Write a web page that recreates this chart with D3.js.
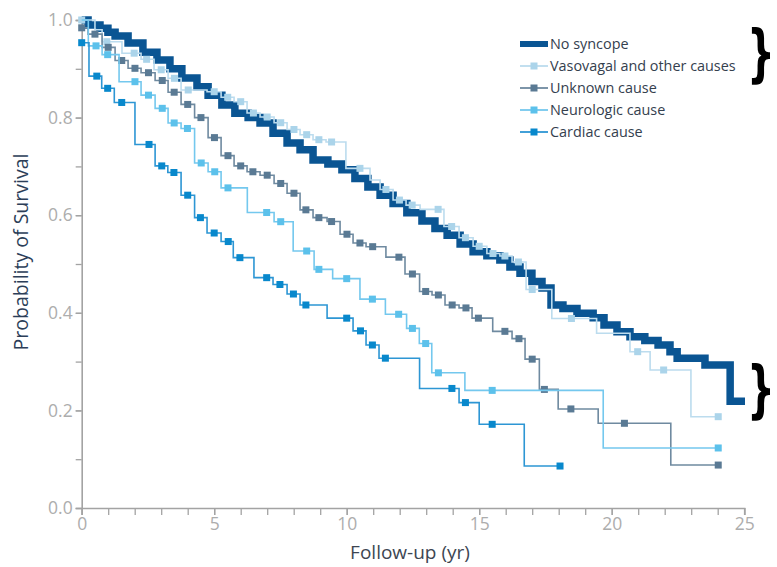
<!DOCTYPE html>
<html>
<head>
<meta charset="utf-8">
<script src="https://cdn.jsdelivr.net/npm/d3@7"></script>
<style>
  body { margin: 0; background: #fff; }
  svg { display: block; font-family: "Open Sans", sans-serif; }
</style>
</head>
<body>
<svg width="777" height="567"></svg>
<script>
// survival curves: [year, probability after the step]
const noSyncope = [
  [0, 1.0], [0.24, 0.99], [0.69, 0.983], [0.99, 0.975], [1.26, 0.967], [1.75, 0.953],
  [2.31, 0.934], [2.84, 0.918], [3.33, 0.9], [3.78, 0.881], [4.35, 0.863], [4.77, 0.846],
  [5.29, 0.826], [5.78, 0.809], [6.28, 0.8], [6.73, 0.789], [7.22, 0.768], [7.75, 0.748],
  [8.24, 0.734], [8.73, 0.713], [9.29, 0.705], [9.82, 0.693], [10.31, 0.675], [10.8, 0.658],
  [11.26, 0.641], [11.75, 0.624], [12.27, 0.605], [12.84, 0.588], [13.33, 0.573], [13.79, 0.559],
  [14.28, 0.541], [14.77, 0.525], [15.29, 0.517], [15.78, 0.508], [16.16, 0.494], [16.54, 0.481],
  [16.99, 0.464], [17.37, 0.451], [17.71, 0.416], [18.16, 0.409], [18.69, 0.399], [19.3, 0.39],
  [19.71, 0.375], [20.2, 0.361], [20.69, 0.351], [21.25, 0.343], [21.75, 0.334], [22.2, 0.32],
  [22.47, 0.307], [23.52, 0.293], [24.47, 0.219], [25.03, 0.219]
];

const vasovagal = [
  [0, 1.0], [0.5, 0.98], [0.77, 0.9555], [1.52, 0.932], [2.24, 0.9195], [2.73, 0.898],
  [3.26, 0.8805], [3.75, 0.8566], [4.73, 0.853], [5.26, 0.8416], [5.75, 0.8326], [6.24, 0.8094],
  [6.73, 0.8012], [7.26, 0.7895], [7.75, 0.7756], [8.24, 0.765], [8.73, 0.7547], [9.22, 0.75],
  [9.97, 0.696], [10.88, 0.672], [11.26, 0.6527], [11.75, 0.631], [12.24, 0.6207], [12.77, 0.612],
  [13.67, 0.5768], [14.24, 0.5539], [14.77, 0.5363], [15.29, 0.5215], [15.78, 0.5164], [16.24, 0.5041],
  [16.77, 0.4477], [17.74, 0.3883], [19.43, 0.358], [20.69, 0.3203], [21.45, 0.2828], [22.99, 0.1871],
  [24.02, 0.1871]
];
const vasovagalMarks = [0, 0.95, 1.98, 2.45, 3.0, 3.5, 4.02, 5.0, 5.51, 6.0, 6.48, 7.0, 7.51, 8.01,
  8.49, 8.95, 9.43, 10.5, 11.48, 11.99, 12.47, 13.45, 13.96, 14.48, 15.0, 15.52, 15.97, 16.48, 17.0,
  18.48, 20.98, 21.96, 24.02];

const unknown = [
  [0, 0.984], [0.24, 0.971], [0.77, 0.944], [1.26, 0.917], [1.75, 0.901], [2.24, 0.892],
  [2.77, 0.876], [3.26, 0.852], [3.75, 0.827], [4.26, 0.8], [4.77, 0.759], [5.26, 0.722],
  [5.75, 0.701], [6.24, 0.689], [6.73, 0.682], [7.26, 0.665], [7.75, 0.645], [8.24, 0.611],
  [8.73, 0.595], [9.26, 0.587], [9.75, 0.561], [10.24, 0.543], [10.73, 0.5355], [11.48, 0.514],
  [12.2, 0.4795], [12.75, 0.4437], [13.22, 0.4365], [13.71, 0.416], [14.24, 0.41], [14.73, 0.389],
  [15.51, 0.362], [16.24, 0.347], [16.73, 0.305], [17.27, 0.243], [17.98, 0.203], [19.49, 0.1736],
  [22.23, 0.088], [24.02, 0.088]
];
const unknownMarks = [0, 0.5, 1.0, 1.51, 2.01, 2.52, 3.04, 3.49, 4.0, 4.5, 5.01, 5.52, 6.0, 6.46,
  7.0, 7.51, 8.01, 8.46, 8.95, 9.43, 10.01, 10.5, 10.98, 11.97, 12.48, 12.98, 13.46, 13.98, 14.5,
  14.97, 15.97, 16.5, 17.0, 17.46, 18.46, 20.48, 24.02];

const neurologic = [
  [0, 1.0], [0.25, 0.947], [0.77, 0.929], [1.41, 0.8736], [2.24, 0.846], [2.77, 0.819],
  [3.26, 0.789], [3.75, 0.7777], [4.26, 0.707], [4.77, 0.689], [5.26, 0.656], [6.25, 0.6055],
  [7.26, 0.5867], [7.98, 0.5266], [8.77, 0.489], [9.47, 0.47], [10.5, 0.428], [11.46, 0.397],
  [12.26, 0.368], [12.74, 0.337], [13.21, 0.277], [14.46, 0.241], [19.68, 0.123], [24.02, 0.123]
];
const neurologicMarks = [0.54, 0.98, 2.01, 2.52, 3.04, 3.49, 3.99, 4.51, 5.02, 5.52, 6.98, 7.51,
  8.49, 8.95, 10.0, 10.97, 11.96, 12.48, 12.98, 13.46, 15.49, 24.02];

const cardiac = [
  [0, 0.9535], [0.275, 0.885], [0.755, 0.86], [1.23, 0.831], [2.01, 0.745], [2.77, 0.701],
  [3.25, 0.6875], [3.75, 0.641], [4.26, 0.595], [4.73, 0.5635], [5.26, 0.546], [5.72, 0.513],
  [6.5, 0.472], [7.22, 0.458], [7.75, 0.4385], [8.24, 0.416], [9.26, 0.389], [10.24, 0.363],
  [10.73, 0.334], [11.22, 0.307], [12.75, 0.245], [14.24, 0.216], [15.0, 0.1715], [16.7, 0.086],
  [18.05, 0.086]
];
const cardiacMarks = [0, 0.57, 0.98, 1.51, 2.54, 3.02, 3.48, 4.0, 4.48, 5.0, 5.53, 5.97, 6.98,
  7.48, 7.99, 8.46, 10.0, 10.52, 10.97, 11.46, 13.97, 14.48, 15.49, 18.05];

const legendLabels = ["No syncope", "Vasovagal and other causes", "Unknown cause", "Neurologic cause", "Cardiac cause"];
const xTickLabels = [0, 5, 10, 15, 20, 25];
const yTickLabels = [0, 0.2, 0.4, 0.6, 0.8, 1.0];

const svg = d3.select("svg");

const xScale = d3.scaleLinear().domain([0, 25]).range([81.7, 744.2]);
const yScale = d3.scaleLinear().domain([0, 1]).range([508, 20]);

// axes
const axisColor = "#a3a3a3";
const xMinor = d3.axisBottom(xScale).tickValues(d3.range(0, 26, 1)).tickSize(7).tickFormat("");
const xAxis = d3.axisBottom(xScale).tickValues(xTickLabels).tickSize(7).tickPadding(3).tickFormat(d3.format("d"));
const yMinor = d3.axisLeft(yScale).tickValues(d3.range(0, 1.01, 0.1)).tickSize(6).tickFormat("");
const yAxis = d3.axisLeft(yScale).tickValues(yTickLabels).tickSize(6).tickPadding(3).tickFormat(d3.format(".1f"));

svg.append("g").attr("id", "xMinorG").attr("transform", "translate(0,508)").call(xMinor);
svg.append("g").attr("id", "xAxisG").attr("transform", "translate(0,508)").call(xAxis);
svg.append("g").attr("id", "yMinorG").attr("transform", "translate(81.7,0)").call(yMinor);
svg.append("g").attr("id", "yAxisG").attr("transform", "translate(81.7,0)").call(yAxis);

svg.selectAll("#xAxisG path.domain, #yAxisG path.domain").style("display", "none");
svg.selectAll(".domain").attr("stroke", axisColor).attr("stroke-width", 1.6);
svg.selectAll(".tick line").attr("stroke", axisColor).attr("stroke-width", 1.3);
svg.selectAll(".tick text")
  .attr("fill", "#adadad")
  .style("font-size", "17.5px")
  .style("font-family", "'Open Sans', sans-serif");

// axis titles
svg.append("text")
  .attr("x", 410).attr("y", 559)
  .attr("text-anchor", "middle")
  .attr("fill", "#3d4652")
  .style("font-size", "19px")
  .text("Follow-up (yr)");

svg.append("text")
  .attr("transform", "translate(28,252) rotate(-90)")
  .attr("text-anchor", "middle")
  .attr("fill", "#2c3e58")
  .style("font-size", "19.5px")
  .text("Probability of Survival");

// curves
const stepLine = d3.line()
  .x((d) => xScale(d[0]))
  .y((d) => yScale(d[1]))
  .curve(d3.curveStepAfter);

const bisect = d3.bisector((d) => d[0]).right;
const survivalAt = (curve, t) => curve[Math.max(0, bisect(curve, t) - 1)][1];

const series = [
  { name: legendLabels[0], data: noSyncope, marks: [], line: "#0a5593", mark: "#0a5593", width: 7.5 },
  { name: legendLabels[1], data: vasovagal, marks: vasovagalMarks, line: "#bcdcee", mark: "#abd4ea", width: 1.6 },
  { name: legendLabels[2], data: unknown, marks: unknownMarks, line: "#6f8aa0", mark: "#5a7a94", width: 1.6 },
  { name: legendLabels[3], data: neurologic, marks: neurologicMarks, line: "#74c8ee", mark: "#5cc1eb", width: 1.6 },
  { name: legendLabels[4], data: cardiac, marks: cardiacMarks, line: "#2d96d4", mark: "#0888cc", width: 1.6 }
];

const mSize = 7;

series.forEach((s) => {
  const g = svg.append("g");
  g.append("path")
    .datum(s.data)
    .attr("d", stepLine)
    .attr("fill", "none")
    .attr("stroke", s.line)
    .attr("stroke-width", s.width)
    .attr("stroke-linejoin", "miter");

  g.selectAll("rect")
    .data(s.marks)
    .enter()
    .append("rect")
    .attr("x", (t) => xScale(t) - mSize / 2)
    .attr("y", (t) => yScale(survivalAt(s.data, t)) - mSize / 2)
    .attr("width", mSize)
    .attr("height", mSize)
    .attr("fill", s.mark);
});

// legend
const legend = svg.append("g").attr("transform", "translate(520,44)");
const items = legend.selectAll("g")
  .data(series)
  .enter()
  .append("g")
  .attr("transform", (d, i) => `translate(0,${i * 22})`);

items.append("line")
  .attr("x1", 0).attr("x2", 28)
  .attr("stroke", (d) => d.line)
  .attr("stroke-width", (d) => (d.marks.length ? 1.8 : 6));

items.filter((d) => d.marks.length)
  .append("rect")
  .attr("x", 14 - 3.5).attr("y", -3.5)
  .attr("width", 7).attr("height", 7)
  .attr("fill", (d) => d.mark);

items.append("text")
  .attr("x", 30)
  .attr("dy", "0.35em")
  .attr("fill", "#34404e")
  .style("font-size", "14.4px")
  .text((d) => d.name);

// braces on the right
svg.selectAll("text.brace")
  .data([0.935, 0.245])
  .enter()
  .append("text")
  .attr("class", "brace")
  .attr("transform", (d) => `translate(747,${yScale(d) + 22}) scale(0.7,1.12)`)
  .attr("fill", "#000")
  .style("font-family", "'DejaVu Sans', sans-serif")
  .style("font-weight", "bold")
  .style("font-size", "56px")
  .text("}");
</script>
</body>
</html>
